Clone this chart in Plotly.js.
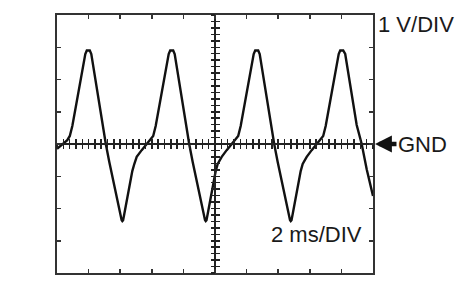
<!DOCTYPE html>
<html>
<head>
<meta charset="utf-8">
<script src="https://cdn.plot.ly/plotly-3.0.1.min.js"></script>
<style>html,body{margin:0;padding:0;background:#fff;}#chart{width:472px;height:296px;}</style>
</head>
<body>
<div id="chart"></div>
<script>
// Time in ms (2 ms per division, 10 divisions)
var timeMs = [
  0.000, 0.400, 0.650, 0.810, 0.970, 1.222, 1.475, 1.665, 1.791, 1.886, 1.981,
  2.076, 2.171, 2.361, 2.551, 2.740, 2.930, 3.089, 3.310, 3.563, 3.816, 4.006, 4.089, 4.133, 4.184, 4.259, 4.449, 4.639, 4.766, 4.892,
  5.044, 5.360, 5.677, 5.930, 6.088, 6.246, 6.500, 6.753, 6.943, 7.069, 7.164, 7.259,
  7.354, 7.449, 7.639, 7.829, 8.018, 8.208, 8.367, 8.588, 8.841, 9.094, 9.284, 9.367, 9.411, 9.462, 9.537, 9.727, 9.917, 10.044, 10.170,
  10.424, 10.740, 11.057, 11.310, 11.468, 11.626, 11.880, 12.133, 12.323, 12.449, 12.544, 12.639,
  12.734, 12.829, 13.019, 13.209, 13.398, 13.588, 13.747, 13.968, 14.221, 14.474, 14.664, 14.747, 14.791, 14.842, 14.917, 15.107, 15.297, 15.424, 15.550,
  15.804, 16.120, 16.437, 16.690, 16.848, 17.006, 17.260, 17.513, 17.703, 17.829, 17.924, 18.019,
  18.114, 18.241, 18.462, 18.715, 18.968, 19.285, 19.601, 20.000
];
// Voltage in V (1 V per division)
var voltV = [
  -0.15, 0.00, 0.12, 0.25, 0.56, 1.24, 1.92, 2.48, 2.79, 2.90, 2.91,
  2.90, 2.79, 2.20, 1.64, 1.05, 0.47, 0.00, -0.56, -1.18, -1.77, -2.20, -2.36, -2.39, -2.36, -2.17, -1.64, -1.15, -0.84, -0.62,
  -0.40, -0.19, 0.00, 0.12, 0.25, 0.56, 1.24, 1.92, 2.48, 2.79, 2.90, 2.91,
  2.90, 2.79, 2.20, 1.64, 1.05, 0.47, 0.00, -0.56, -1.18, -1.77, -2.20, -2.36, -2.39, -2.36, -2.17, -1.64, -1.15, -0.84, -0.62,
  -0.40, -0.19, 0.00, 0.12, 0.25, 0.56, 1.24, 1.92, 2.48, 2.79, 2.90, 2.91,
  2.90, 2.79, 2.20, 1.64, 1.05, 0.47, 0.00, -0.56, -1.18, -1.77, -2.20, -2.36, -2.39, -2.36, -2.17, -1.64, -1.15, -0.84, -0.62,
  -0.40, -0.19, 0.00, 0.12, 0.25, 0.56, 1.24, 1.92, 2.48, 2.79, 2.90, 2.91,
  2.90, 2.79, 2.11, 1.30, 0.59, 0.00, -0.78, -1.61
];
var xRange = [0, 20];
var yRange = [-4, 4];
var voltLabel = "1 V/DIV";
var timeLabel = "2 ms/DIV";
var gndLabel = "GND";

var FONT = "Liberation Sans, Arial, sans-serif";
var INK = "#1a1a1a";

var traces = [
  {x: timeMs, y: voltV, type: "scatter", mode: "lines", line: {color: "#111", width: 2.4},
   hoverinfo: "skip", showlegend: false},
  {x: [], y: [], xaxis: "x2", yaxis: "y", type: "scatter", showlegend: false, hoverinfo: "skip"},
  {x: [], y: [], xaxis: "x3", yaxis: "y", type: "scatter", showlegend: false, hoverinfo: "skip"},
  {x: [], y: [], xaxis: "x", yaxis: "y2", type: "scatter", showlegend: false, hoverinfo: "skip"},
  {x: [], y: [], xaxis: "x", yaxis: "y3", type: "scatter", showlegend: false, hoverinfo: "skip"}
];

function frameAxis(range, dtick) {
  return {range: range, dtick: dtick, tick0: range[0], showline: true, mirror: "ticks",
    linewidth: 2, linecolor: "#333", ticks: "inside", ticklen: 4, tickwidth: 1.5, tickcolor: "#333",
    showticklabels: false, showgrid: false, zeroline: false, fixedrange: true};
}
function centerAxis(range, dtick, overlay, side, line) {
  return {range: range, dtick: dtick, tick0: range[0], overlaying: overlay, anchor: "free", position: 0.5,
    showline: line, linewidth: 2, linecolor: "#222", ticks: side, ticklen: 4, tickwidth: 1.5, tickcolor: "#222",
    showticklabels: false, showgrid: false, zeroline: false, fixedrange: true};
}

var layout = {
  width: 472, height: 296,
  margin: {l: 57, r: 99, t: 15, b: 23, pad: 0},
  paper_bgcolor: "#fff", plot_bgcolor: "#fff",
  showlegend: false,
  xaxis: frameAxis(xRange, 2),
  yaxis: frameAxis(yRange, 1),
  xaxis2: centerAxis(xRange, 0.4, "x", "inside", true),
  xaxis3: centerAxis(xRange, 0.4, "x", "outside", false),
  yaxis2: centerAxis(yRange, 0.2, "y", "inside", true),
  yaxis3: centerAxis(yRange, 0.2, "y", "outside", false),
  annotations: [
    {text: voltLabel, xref: "paper", yref: "paper", x: 1.0110, y: 0.963, xanchor: "left", yanchor: "middle",
     showarrow: false, font: {family: FONT, size: 22, color: INK}},
    {text: gndLabel, xref: "paper", yref: "y", x: 1.072, y: 0, xanchor: "left", yanchor: "middle",
     showarrow: false, font: {family: FONT, size: 22, color: INK}},
    {text: "", xref: "paper", yref: "y", x: 1.0063, y: 0, ax: 23, ay: 0, showarrow: true,
     arrowhead: 2, arrowsize: 0.75, arrowwidth: 4.5, arrowcolor: "#111", standoff: 0},
    {text: timeLabel, xref: "paper", yref: "paper", x: 0.9715, y: 0.149, xanchor: "right", yanchor: "middle",
     showarrow: false, font: {family: FONT, size: 22, color: INK}}
  ]
};

Plotly.newPlot("chart", traces, layout, {staticPlot: true, displayModeBar: false});
</script>
</body>
</html>
